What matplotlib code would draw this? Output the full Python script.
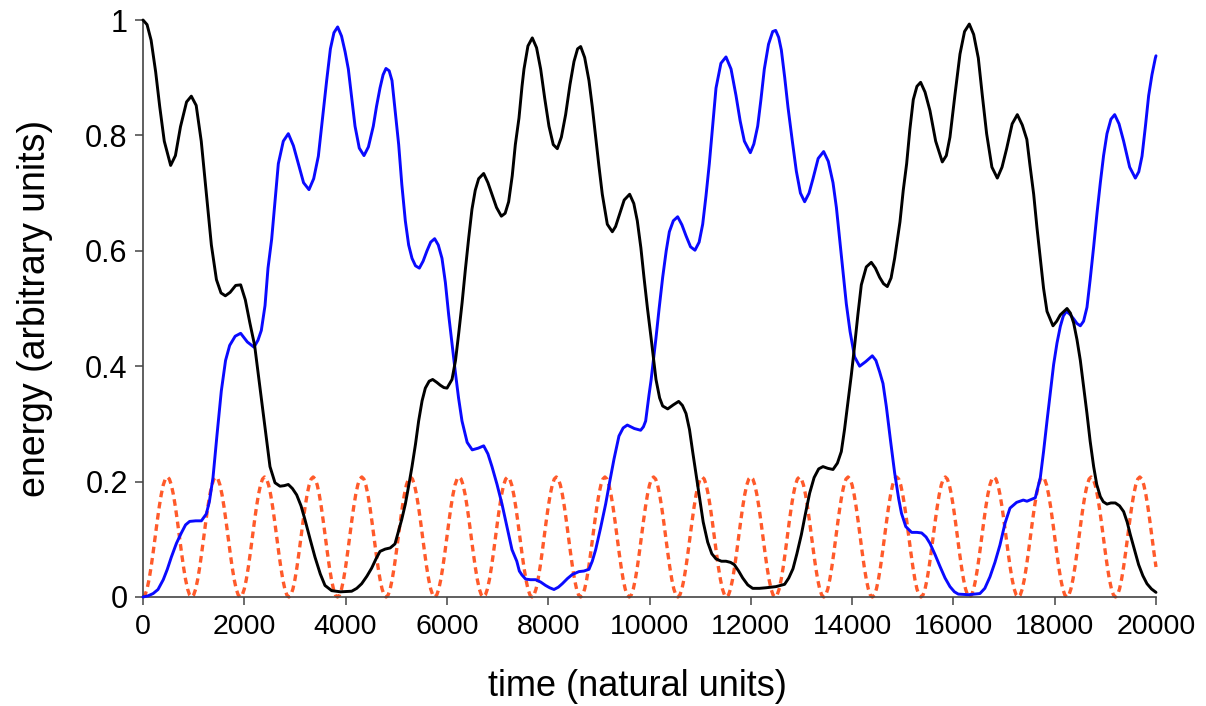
import matplotlib
matplotlib.use("Agg")
import matplotlib.pyplot as plt

# ---------------- data ----------------
black_t = [0, 80, 160, 250, 330, 420, 546, 640, 740, 860, 954, 1050, 1150, 1250, 1350, 1450, 1540, 1626, 1720, 1830,
           1928, 2020, 2110, 2204, 2300, 2400, 2507, 2606, 2705, 2790, 2869, 2950, 3034, 3120, 3198, 3300, 3396, 3500,
           3593, 3725, 3900, 4120, 4220, 4317, 4420, 4514, 4600, 4679, 4780, 4880, 4975, 5048, 5110, 5179, 5250, 5311,
           5380, 5442, 5510, 5574, 5650, 5719, 5800, 5870, 5940, 6002, 6101, 6170, 6232, 6300, 6364, 6430, 6495, 6560,
           6627, 6726, 6810, 6890, 6980, 7075, 7150, 7219, 7290, 7351, 7423, 7483, 7522, 7600, 7686, 7770, 7851, 7930,
           8015, 8100, 8180, 8260, 8344, 8430, 8509, 8580, 8641, 8720, 8805, 8870, 8937, 9000, 9068, 9167, 9266, 9330,
           9397, 9500, 9608, 9690, 9759, 9830, 9891, 9960, 10030, 10128, 10200, 10260, 10359, 10470, 10576, 10650,
           10721, 10790, 10852, 10920, 10984, 11060, 11149, 11230, 11313, 11420, 11510, 11600, 11675, 11760, 11840,
           11940, 12037, 12170, 12300, 12498, 12668, 12750, 12833, 12910, 12998, 13080, 13162, 13250, 13340, 13425,
           13520, 13623, 13710, 13787, 13850, 13919, 13985, 14050, 14115, 14182, 14280, 14379, 14460, 14544, 14620,
           14695, 14770, 14840, 14945, 15010, 15077, 15140, 15208, 15280, 15353, 15440, 15537, 15650, 15781, 15860,
           15932, 16030, 16130, 16220, 16314, 16400, 16492, 16570, 16656, 16760, 16867, 16960, 17051, 17160, 17262,
           17360, 17450, 17512, 17585, 17650, 17716, 17780, 17848, 17966, 18040, 18111, 18243, 18310, 18374, 18440,
           18506, 18570, 18637, 18700, 18769, 18830, 18901, 18960, 19032, 19110, 19197, 19280, 19361, 19430, 19493,
           19575, 19657, 19740, 19822, 19910, 20000]
black_e = [1.000, 0.992, 0.965, 0.910, 0.850, 0.790, 0.748, 0.765, 0.815, 0.858, 0.868, 0.852, 0.790, 0.700, 0.610,
           0.550, 0.527, 0.522, 0.528, 0.540, 0.541, 0.515, 0.475, 0.436, 0.370, 0.300, 0.226, 0.198, 0.192, 0.193,
           0.195, 0.188, 0.177, 0.158, 0.134, 0.100, 0.069, 0.040, 0.020, 0.011, 0.009, 0.010, 0.015, 0.023, 0.036,
           0.050, 0.066, 0.079, 0.083, 0.085, 0.092, 0.115, 0.135, 0.161, 0.195, 0.226, 0.265, 0.305, 0.340, 0.362,
           0.374, 0.377, 0.372, 0.367, 0.363, 0.362, 0.377, 0.410, 0.456, 0.510, 0.567, 0.622, 0.672, 0.705, 0.725,
           0.734, 0.718, 0.698, 0.675, 0.660, 0.665, 0.685, 0.730, 0.784, 0.830, 0.885, 0.915, 0.955, 0.969, 0.952,
           0.915, 0.865, 0.816, 0.784, 0.777, 0.797, 0.836, 0.888, 0.928, 0.950, 0.954, 0.935, 0.895, 0.850, 0.797,
           0.748, 0.698, 0.646, 0.633, 0.642, 0.660, 0.688, 0.698, 0.682, 0.652, 0.605, 0.554, 0.500, 0.450, 0.377,
           0.345, 0.331, 0.326, 0.333, 0.339, 0.332, 0.318, 0.290, 0.252, 0.212, 0.174, 0.130, 0.095, 0.075, 0.066,
           0.062, 0.062, 0.060, 0.056, 0.045, 0.033, 0.021, 0.015, 0.015, 0.016, 0.018, 0.022, 0.033, 0.049, 0.075,
           0.108, 0.145, 0.180, 0.207, 0.222, 0.226, 0.223, 0.221, 0.232, 0.252, 0.290, 0.338, 0.385, 0.436, 0.490,
           0.541, 0.572, 0.580, 0.570, 0.554, 0.543, 0.538, 0.553, 0.587, 0.650, 0.705, 0.751, 0.810, 0.862, 0.885,
           0.892, 0.875, 0.843, 0.790, 0.754, 0.765, 0.797, 0.870, 0.941, 0.980, 0.993, 0.975, 0.934, 0.870, 0.803,
           0.745, 0.726, 0.745, 0.777, 0.820, 0.836, 0.818, 0.793, 0.748, 0.698, 0.640, 0.587, 0.535, 0.495, 0.470,
           0.478, 0.489, 0.500, 0.492, 0.475, 0.446, 0.410, 0.365, 0.318, 0.270, 0.226, 0.195, 0.174, 0.165, 0.161,
           0.163, 0.163, 0.158, 0.148, 0.130, 0.108, 0.082, 0.056, 0.037, 0.023, 0.014, 0.008]

blue_t = [0, 100, 200, 296, 400, 480, 559, 660, 757, 840, 921, 1040, 1152, 1250, 1310, 1382, 1460, 1546, 1630, 1711,
          1820, 1928, 2060, 2191, 2270, 2336, 2409, 2468, 2540, 2610, 2672, 2770, 2869, 2970, 3067, 3170, 3277, 3370,
          3462, 3545, 3626, 3700, 3770, 3843, 3920, 3990, 4054, 4120, 4186, 4270, 4363, 4450, 4547, 4610, 4679, 4740,
          4797, 4860, 4916, 4975, 5048, 5110, 5179, 5245, 5311, 5380, 5456, 5530, 5607, 5680, 5758, 5830, 5903, 5970,
          6035, 6100, 6166, 6230, 6298, 6400, 6500, 6620, 6726, 6810, 6890, 6990, 7088, 7190, 7285, 7380, 7430, 7483,
          7555, 7650, 7752, 7850, 7949, 8030, 8114, 8200, 8278, 8380, 8476, 8607, 8705, 8805, 8870, 8937, 9035, 9134,
          9215, 9299, 9397, 9480, 9562, 9700, 9825, 9880, 9924, 9990, 10030, 10128, 10190, 10260, 10330, 10392, 10470,
          10556, 10640, 10721, 10810, 10898, 10980, 11050, 11115, 11181, 11250, 11313, 11410, 11510, 11610, 11708,
          11790, 11873, 11991, 12060, 12136, 12200, 12267, 12350, 12432, 12491, 12550, 12603, 12670, 12734, 12820,
          12899, 12980, 13063, 13150, 13228, 13330, 13438, 13530, 13623, 13690, 13754, 13820, 13886, 13960, 14050,
          14149, 14270, 14399, 14470, 14544, 14610, 14676, 14760, 14840, 14920, 14975, 15060, 15175, 15280, 15373,
          15460, 15537, 15640, 15735, 15835, 15932, 16020, 16097, 16300, 16524, 16620, 16722, 16820, 16919, 17020,
          17117, 17248, 17380, 17453, 17617, 17716, 17780, 17848, 17915, 17979, 18045, 18111, 18170, 18230, 18300,
          18374, 18440, 18506, 18570, 18637, 18700, 18769, 18835, 18901, 18965, 19032, 19110, 19184, 19270, 19361,
          19480, 19592, 19660, 19724, 19790, 19855, 19920, 19987, 20000]
blue_e = [0.000, 0.002, 0.006, 0.013, 0.030, 0.048, 0.069, 0.093, 0.111, 0.125, 0.131, 0.132, 0.132, 0.144, 0.165,
          0.207, 0.280, 0.357, 0.410, 0.436, 0.452, 0.457, 0.442, 0.433, 0.445, 0.462, 0.505, 0.570, 0.620, 0.690,
          0.751, 0.790, 0.803, 0.782, 0.751, 0.718, 0.706, 0.725, 0.764, 0.830, 0.895, 0.950, 0.978, 0.988, 0.972,
          0.945, 0.915, 0.865, 0.816, 0.778, 0.765, 0.780, 0.816, 0.850, 0.882, 0.905, 0.916, 0.912, 0.895, 0.845,
          0.784, 0.715, 0.652, 0.610, 0.587, 0.574, 0.570, 0.582, 0.600, 0.615, 0.621, 0.610, 0.587, 0.545, 0.489,
          0.440, 0.390, 0.345, 0.305, 0.268, 0.255, 0.258, 0.262, 0.248, 0.226, 0.195, 0.161, 0.120, 0.082, 0.062,
          0.045, 0.038, 0.031, 0.030, 0.030, 0.026, 0.020, 0.016, 0.013, 0.017, 0.023, 0.032, 0.039, 0.044, 0.045,
          0.048, 0.062, 0.082, 0.120, 0.161, 0.200, 0.239, 0.279, 0.293, 0.298, 0.292, 0.289, 0.295, 0.305, 0.350,
          0.375, 0.449, 0.500, 0.554, 0.600, 0.633, 0.652, 0.659, 0.645, 0.626, 0.607, 0.601, 0.615, 0.646, 0.695,
          0.751, 0.820, 0.882, 0.925, 0.936, 0.915, 0.869, 0.825, 0.790, 0.770, 0.785, 0.816, 0.862, 0.915, 0.958,
          0.980, 0.982, 0.970, 0.948, 0.900, 0.849, 0.790, 0.738, 0.700, 0.685, 0.700, 0.725, 0.760, 0.772, 0.755,
          0.718, 0.675, 0.620, 0.562, 0.508, 0.460, 0.416, 0.400, 0.408, 0.418, 0.410, 0.390, 0.370, 0.330, 0.270,
          0.215, 0.170, 0.145, 0.122, 0.112, 0.112, 0.111, 0.104, 0.093, 0.073, 0.053, 0.033, 0.018, 0.009, 0.005,
          0.004, 0.006, 0.015, 0.035, 0.060, 0.090, 0.128, 0.154, 0.164, 0.168, 0.166, 0.172, 0.207, 0.252, 0.305,
          0.355, 0.403, 0.440, 0.469, 0.487, 0.495, 0.490, 0.482, 0.474, 0.470, 0.478, 0.502, 0.550, 0.607, 0.665,
          0.718, 0.765, 0.803, 0.828, 0.836, 0.820, 0.790, 0.745, 0.726, 0.737, 0.764, 0.815, 0.869, 0.905, 0.934,
          0.938]

# dotted curve: one period (960 time units) sampled every 40 units, repeats over the whole run
orange_step = 40
orange_cycle = [0.000, 0.0035, 0.0139, 0.0305, 0.052, 0.0771, 0.104, 0.1309, 0.156, 0.1775, 0.1941, 0.2045,
                0.208, 0.2045, 0.1941, 0.1775, 0.156, 0.1309, 0.104, 0.0771, 0.052, 0.0305, 0.0139, 0.0035]
n_orange = 20000 // orange_step + 1
orange_e = (orange_cycle * 21)[:n_orange]
orange_t = [i * orange_step for i in range(n_orange)]

x_ticks = [0, 2000, 4000, 6000, 8000, 10000, 12000, 14000, 16000, 18000, 20000]
y_ticks = [0, 0.2, 0.4, 0.6, 0.8, 1]
y_tick_labels = ["0", "0.2", "0.4", "0.6", "0.8", "1"]

# ---------------- drawing ----------------
plt.rcParams['font.family'] = ['Liberation Sans', 'DejaVu Sans']

fig = plt.figure(figsize=(12.06, 7.06), dpi=100)
ax = fig.add_axes([143 / 1206, 1 - 597 / 706, 1013 / 1206, 577 / 706])

ax.plot(orange_t, orange_e, color='#ff5a2a', lw=2.4, linestyle=(0, (2.0, 1.4)), clip_on=False, zorder=2)
ax.plot(blue_t, blue_e, color='#0a0aff', lw=2.1, clip_on=False, zorder=3,
        solid_joinstyle='round', solid_capstyle='round')
ax.plot(black_t, black_e, color='#000000', lw=2.1, clip_on=False, zorder=4,
        solid_joinstyle='round', solid_capstyle='round')

ax.set_xlim(0, 20000)
ax.set_ylim(0, 1)
ax.set_xticks(x_ticks)
ax.set_xticklabels([str(v) for v in x_ticks])
ax.set_yticks(y_ticks)
ax.set_yticklabels(y_tick_labels)

for s in ['top', 'right']:
    ax.spines[s].set_visible(False)
for s in ['left', 'bottom']:
    ax.spines[s].set_color('#444444')
    ax.spines[s].set_linewidth(1.2)

ax.tick_params(axis='both', direction='out', length=6, width=1.1, color='#444444', labelcolor='black')
ax.tick_params(axis='x', labelsize=20.5, pad=6)
ax.tick_params(axis='y', labelsize=22, pad=5)

ax.set_xlabel('time (natural units)', fontsize=26)
ax.set_ylabel('energy (arbitrary units)', fontsize=27)
ax.xaxis.set_label_coords((637 - 143) / 1013, -89 / 577)
ax.xaxis.label.set_va('center')
ax.yaxis.set_label_coords((35 - 143) / 1013, 0.5)
ax.yaxis.label.set_va('center')
ax.yaxis.label.set_ha('center')

fig.savefig('out.png', dpi=100)
